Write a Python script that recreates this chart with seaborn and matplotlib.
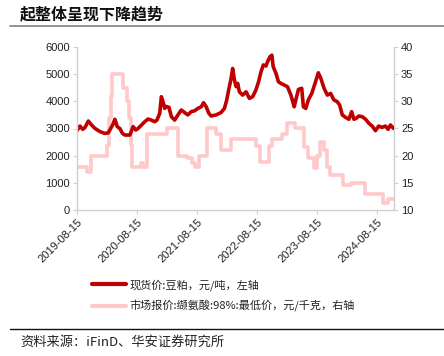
import matplotlib
matplotlib.use("Agg")
import matplotlib.pyplot as plt
from matplotlib.lines import Line2D
import seaborn as sns
import pandas as pd

# ---------------- data ----------------
meal_dates = [
    "2019-08-15", "2019-09-02", "2019-09-19", "2019-10-03", "2019-10-23", "2019-11-12",
    "2019-12-02", "2020-01-02", "2020-02-01", "2020-02-21", "2020-03-02", "2020-03-19",
    "2020-04-02", "2020-04-16", "2020-05-02", "2020-05-18", "2020-06-01", "2020-07-02",
    "2020-07-22", "2020-08-07", "2020-08-21", "2020-09-11", "2020-10-01", "2020-10-21",
    "2020-11-10", "2020-11-30", "2020-12-14", "2020-12-31", "2021-01-10", "2021-01-20",
    "2021-01-30", "2021-02-09", "2021-02-25", "2021-03-12", "2021-04-01", "2021-04-21",
    "2021-05-11", "2021-05-31", "2021-06-20", "2021-07-11", "2021-07-31", "2021-08-20",
    "2021-09-10", "2021-09-24", "2021-10-10", "2021-10-26", "2021-11-09", "2021-12-10",
    "2022-01-09", "2022-01-29", "2022-02-12", "2022-02-24", "2022-03-11", "2022-03-20",
    "2022-03-31", "2022-04-10", "2022-04-20", "2022-04-30", "2022-05-20", "2022-06-10",
    "2022-06-30", "2022-07-20", "2022-08-09", "2022-08-25", "2022-09-09", "2022-09-23",
    "2022-10-09", "2022-10-19", "2022-11-02", "2022-11-14", "2022-11-22", "2022-12-09",
    "2022-12-24", "2023-01-08", "2023-01-28", "2023-02-17", "2023-03-10", "2023-03-30",
    "2023-04-09", "2023-04-25", "2023-05-15", "2023-05-25", "2023-06-09", "2023-06-24",
    "2023-07-15", "2023-08-04", "2023-08-24", "2023-09-08", "2023-09-28", "2023-10-18",
    "2023-11-07", "2023-11-27", "2023-12-17", "2024-01-01", "2024-01-17", "2024-02-06",
    "2024-02-26", "2024-03-14", "2024-03-28", "2024-04-11", "2024-04-27", "2024-05-17",
    "2024-06-07", "2024-06-27", "2024-07-17", "2024-08-06", "2024-08-26", "2024-09-15",
    "2024-10-06", "2024-10-22", "2024-11-05", "2024-11-25",
]
meal_values = [
    2920, 3090, 2970, 3040, 3275, 3130,
    3005, 2885, 2820, 2840, 2945, 3130,
    3340, 3070, 3000, 2820, 2760, 2760,
    3070, 2945, 3000, 3130, 3250, 3350,
    3310, 3250, 3310, 3560, 4170, 3990,
    3740, 3810, 3780, 3435, 3310, 3500,
    3680, 3590, 3500, 3620, 3650, 3740,
    3800, 3950, 3800, 3560, 3460, 3500,
    3590, 3740, 4050, 4420, 4850, 5210,
    4790, 4540, 4660, 4350, 4230, 4350,
    4110, 4170, 4420, 4720, 5090, 5340,
    5300, 5460, 5640, 5700, 5280, 5030,
    4720, 4660, 4600, 4540, 4230, 3800,
    4050, 4440, 4480, 3800, 3740, 4050,
    4290, 4660, 5050, 4850, 4480, 4230,
    4290, 4050, 3990, 3860, 3500, 3410,
    3340, 3620, 3340, 3375, 3460, 3435,
    3340, 3190, 3090, 2920, 3090, 3040,
    3090, 2970, 3130, 3000,
]

valine_dates = [
    "2019-08-15", "2019-10-15", "2019-11-08", "2020-02-13", "2020-02-28", "2020-03-08",
    "2020-03-14", "2020-05-20", "2020-06-16", "2020-06-28", "2020-07-08", "2020-07-17",
    "2020-09-06", "2020-09-21", "2020-10-13", "2021-02-11", "2021-04-19", "2021-06-18",
    "2021-07-13", "2021-07-31", "2021-08-30", "2021-10-12", "2021-12-11", "2022-01-11",
    "2022-03-12", "2022-08-11", "2022-09-04", "2022-10-29", "2022-11-16", "2023-01-16",
    "2023-02-15", "2023-04-05", "2023-05-29", "2023-06-23", "2023-07-29", "2023-08-16",
    "2023-09-03", "2023-09-28", "2023-10-16", "2023-11-03", "2024-01-21", "2024-03-09",
    "2024-06-02", "2024-09-19", "2024-10-20", "2024-11-25",
]
valine_values = [
    18, 17, 20, 22, 27, 31,
    35, 32.5, 30, 27, 22, 18,
    18.7, 18, 24, 25, 20, 19.5,
    18.6, 18, 20, 25, 24, 21,
    23, 21.7, 18.9, 21.7, 23, 24,
    26, 25, 21.6, 19.5, 17.7, 20,
    22.6, 21, 18, 16.4, 14.6, 15,
    12.9, 11.2, 12, 12,
]

left_ticks = [0, 1000, 2000, 3000, 4000, 5000, 6000]
right_ticks = [10, 15, 20, 25, 30, 35, 40]
x_tick_labels = ["2019-08-15", "2020-08-15", "2021-08-15", "2022-08-15", "2023-08-15", "2024-08-15"]

title_text = "起整体呈现下降趋势"
label_meal = "现货价:豆粕，元/吨，左轴"
label_valine = "市场报价:缬氨酸:98%:最低价，元/千克，右轴"
source_text = "资料来源：iFinD、华安证券研究所"

# ---------------- style ----------------
sns.set_theme(style="white")
plt.rcParams["font.family"] = ["Liberation Sans", "Noto Sans CJK SC", "DejaVu Sans"]
cjk = ["Noto Sans CJK SC", "DejaVu Sans"]

RED = "#C00000"
PINK = "#FFC9C9"
SPINE = "#D0D0D0"

W, H = 444, 356
fig = plt.figure(figsize=(W / 100, H / 100), dpi=100)
ax = fig.add_axes([77 / W, 1 - 210 / H, (394 - 77) / W, (210 - 47) / H])
ax2 = ax.twinx()

df_meal = pd.DataFrame({"date": pd.to_datetime(meal_dates), "value": meal_values})
df_val = pd.DataFrame({"date": pd.to_datetime(valine_dates), "value": valine_values})

sns.lineplot(data=df_val, x="date", y="value", ax=ax2, color=PINK, lw=2.6,
             drawstyle="steps-post", legend=False)
sns.lineplot(data=df_meal, x="date", y="value", ax=ax, color=RED, lw=2.6, legend=False)

ax.set_zorder(ax2.get_zorder() + 1)
ax.patch.set_visible(False)

ax.set_xlim(pd.Timestamp("2019-08-15"), pd.Timestamp("2024-11-27"))
ax.set_ylim(0, 6000)
ax2.set_ylim(10, 40)
ax.set_yticks(left_ticks)
ax2.set_yticks(right_ticks)
ax.set_xticks(pd.to_datetime(x_tick_labels))
ax.set_xticklabels(x_tick_labels, rotation=45, ha="right", rotation_mode="anchor")

for a in (ax, ax2):
    a.set_xlabel("")
    a.set_ylabel("")
    a.grid(False)
    for s in a.spines.values():
        s.set_color(SPINE)
        s.set_linewidth(1.0)
    a.spines["top"].set_visible(False)
ax.spines["right"].set_visible(False)
ax2.spines["left"].set_visible(False)
ax2.spines["bottom"].set_visible(False)

ax.tick_params(axis="both", which="both", labelsize=8, colors="#222222", length=3,
               width=0.8, direction="out", pad=2)
ax.tick_params(axis="x", color=SPINE, bottom=True)
ax.tick_params(axis="y", color=SPINE, left=True)
ax2.tick_params(axis="y", labelsize=8, colors="#222222", length=3, width=0.8,
                direction="out", pad=2, right=True)
ax2.tick_params(axis="y", color=SPINE)

# title and separator lines
fig.text(20 / W, 1 - 14 / H, title_text, fontsize=11.5, fontweight="bold",
         family=cjk, va="center", ha="left", color="#111111")
fig.add_artist(Line2D([10 / W, 1.0], [1 - 26 / H, 1 - 26 / H], color="#808080", lw=1.2))
fig.add_artist(Line2D([10 / W, 1.0], [1 - 329 / H, 1 - 329 / H], color="#111111", lw=1.0))
fig.text(20 / W, 1 - 342 / H, source_text, fontsize=9.5, family=cjk,
         va="center", ha="left", color="#222222")

# legend
handles = [Line2D([], [], color=RED, lw=3), Line2D([], [], color=PINK, lw=3)]
leg = fig.legend(handles, [label_meal, label_valine], loc="upper left",
                 bbox_to_anchor=(92 / W, 1 - 279 / H), frameon=False,
                 borderpad=0, borderaxespad=0, handlelength=3.1, handletextpad=0.3,
                 labelspacing=0.85, prop={"family": cjk, "size": 8})
for t in leg.get_texts():
    t.set_color("#222222")

fig.savefig("out.png", dpi=100)
